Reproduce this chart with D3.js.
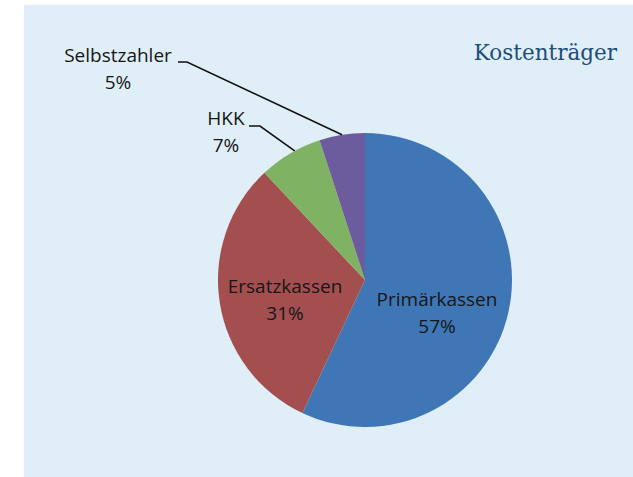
<!DOCTYPE html>
<html>
<head>
<meta charset="utf-8">
<script src="https://cdn.jsdelivr.net/npm/d3@7"></script>
<style>
  html, body { margin: 0; padding: 0; background: #ffffff; }
  svg { display: block; }
</style>
</head>
<body>
<svg id="chart" width="633" height="477"></svg>
<script>
// Kostenträger: share of payers (percent)
const categories = ["Primärkassen", "Ersatzkassen", "HKK", "Selbstzahler"];
const values = [57, 31, 7, 5];
const colors = ["#3f77b6", "#a34f4f", "#7fb262", "#6d5c9d"];
const title = "Kostenträger";

const svg = d3.select("#chart");
const W = 633, H = 477;

// light blue panel
svg.append("rect")
  .attr("x", 24).attr("y", 5)
  .attr("width", W - 24).attr("height", H - 5)
  .attr("fill", "#e0eff7");

svg.append("text")
  .attr("x", 617).attr("y", 60)
  .attr("text-anchor", "end")
  .attr("font-family", "DejaVu Serif, serif")
  .attr("font-size", 21.5)
  .attr("fill", "#1d4d78")
  .text(title);

const cx = 365, cy = 280, r = 147;
const pie = d3.pie().sort(null).value(d => d);
const arcs = pie(values);
const arc = d3.arc().innerRadius(0).outerRadius(r);

const g = svg.append("g").attr("transform", `translate(${cx},${cy})`);
g.selectAll("path")
  .data(arcs)
  .join("path")
  .attr("d", arc)
  .attr("fill", (d, i) => colors[i]);

const font = "Open Sans, Lato, sans-serif";
const fontSize = 19;
const lineGap = 27;
const fmt = v => v + "%";

function label(i, x, y) {
  const t = svg.append("text")
    .attr("text-anchor", "middle")
    .attr("font-family", font)
    .attr("font-size", fontSize)
    .attr("fill", "#161616");
  t.append("tspan").attr("x", x).attr("y", y).text(categories[i]);
  t.append("tspan").attr("x", x).attr("y", y + lineGap).text(fmt(values[i]));
}

// labels inside the two large slices
label(0, 437, 306);
label(1, 285, 293);

// outside labels with leader lines anchored to the slice edge
const edge = (d, f) => {
  const a = d.startAngle + (d.endAngle - d.startAngle) * f;
  return [cx + Math.sin(a) * r, cy - Math.cos(a) * r];
};
const outside = [
  { i: 2, x: 226, y: 125, line: [[249, 126], [260, 126]], f: 0.58 },
  { i: 3, x: 118, y: 62, line: [[178, 62], [187, 62]], f: 0.5 }
];
outside.forEach(p => {
  const end = edge(arcs[p.i], p.f);
  svg.append("path")
    .attr("d", d3.line()([...p.line, end]))
    .attr("fill", "none")
    .attr("stroke", "#111")
    .attr("stroke-width", 1.6);
  label(p.i, p.x, p.y);
});
</script>
</body>
</html>
